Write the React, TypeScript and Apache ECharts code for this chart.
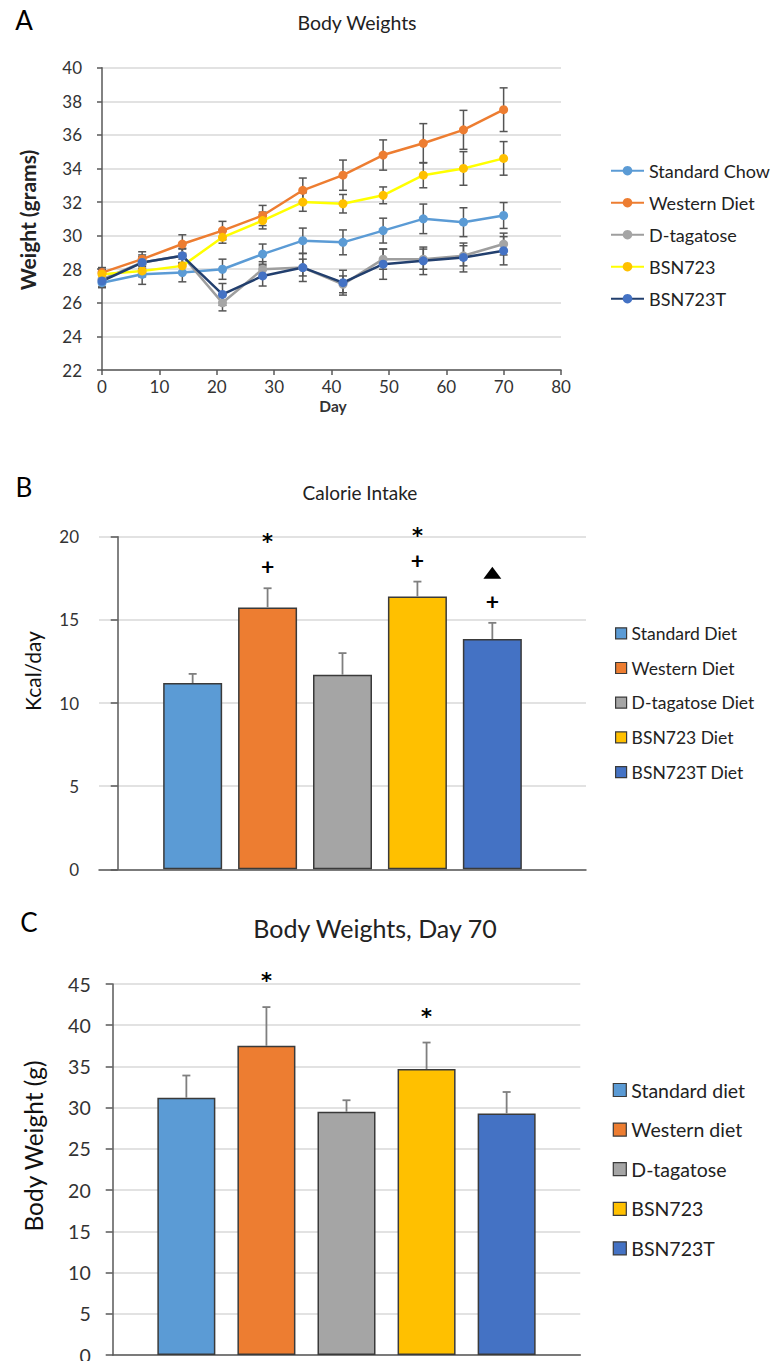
import React, { useEffect, useRef } from "react";
import * as echarts from "echarts";

// ---------- Panel A data ----------
const days = [0, 7, 14, 21, 28, 35, 42, 49, 56, 63, 70];
const seriesNamesA = ["Standard Chow", "Western Diet", "D-tagatose", "BSN723", "BSN723T"];
const standardChow = [27.2, 27.7, 27.8, 28.0, 28.9, 29.7, 29.6, 30.3, 31.0, 30.8, 31.2];
const westernDiet = [27.8, 28.6, 29.5, 30.3, 31.2, 32.7, 33.6, 34.8, 35.5, 36.3, 37.5];
const dTagatose = [27.4, 28.4, 28.8, 26.0, 28.0, 28.1, 27.1, 28.6, 28.6, 28.8, 29.5];
const bsn723 = [27.7, 27.9, 28.2, 29.9, 30.9, 32.0, 31.9, 32.4, 33.6, 34.0, 34.6];
const bsn723T = [27.3, 28.4, 28.8, 26.5, 27.6, 28.1, 27.2, 28.3, 28.5, 28.7, 29.1];
const standardChowErr = [0.3, 0.6, 0.55, 0.6, 0.6, 0.75, 0.74, 0.74, 0.88, 0.86, 0.77];
const westernDietErr = [0.3, 0.44, 0.55, 0.55, 0.6, 0.73, 0.9, 0.9, 1.17, 1.16, 1.3];
const dTagatoseErr = [0.3, 0.35, 0.4, 0.48, 0.45, 0.5, 0.5, 0.6, 0.6, 0.6, 0.65];
const bsn723Err = [0.3, 0.35, 0.4, 0.35, 0.5, 0.55, 0.55, 0.5, 0.75, 1.0, 1.0];
const bsn723TErr = [0.35, 0.45, 0.45, 0.65, 0.6, 0.83, 0.74, 0.9, 0.82, 0.86, 0.84];
const xTicksA = { min: 0, max: 80, interval: 10 };
const yTicksA = { min: 22, max: 40, interval: 2 };

// ---------- Panel B data ----------
const dietNamesB = ["Standard Diet", "Western Diet", "D-tagatose Diet", "BSN723 Diet", "BSN723T Diet"];
const calorieIntake = [11.2, 15.75, 11.7, 16.4, 13.85];
const calorieErr = [0.55, 1.15, 1.3, 0.9, 0.97];
const calorieMarks = [[], ["+", "*"], [], ["+", "*"], ["+", "▲"]];
const yTicksB = { min: 0, max: 20, interval: 5 };

// ---------- Panel C data ----------
const dietNamesC = ["Standard diet", "Western diet", "D-tagatose", "BSN723", "BSN723T"];
const day70Weight = [31.2, 37.5, 29.5, 34.7, 29.3];
const day70Err = [2.7, 4.7, 1.4, 3.2, 2.6];
const day70Marks = [[], ["*"], [], ["*"], []];
const yTicksC = { min: 0, max: 45, interval: 5 };

// ---------- styles ----------
const FONT = "Lato, 'Noto Sans', sans-serif";
const STAR_FONT = "'DejaVu Sans', sans-serif";
const AXIS = "#595959";
const GRID = "#D9D9D9";
const LABEL = "#333333";
const barColors = ["#5B9BD5", "#ED7D31", "#A5A5A5", "#FFC000", "#4472C4"];
const lineColors = ["#5B9BD5", "#ED7D31", "#9E9E9E", "#FFFF00", "#223F6E"];
const markerColors = ["#5B9BD5", "#ED7D31", "#A5A5A5", "#FFC000", "#4472C4"];

const txt = (text: string, x: number, y: number, size: number, extra: any = {}) => ({
  type: "text",
  x,
  y,
  rotation: extra.rotation || 0,
  silent: true,
  style: {
    text,
    fill: extra.fill || "#000",
    fontSize: size,
    fontFamily: FONT,
    fontWeight: extra.weight || "normal",
    align: "center",
    verticalAlign: "middle",
  },
});

function optionA() {
  const vals = [standardChow, westernDiet, dTagatose, bsn723, bsn723T];
  const errs = [standardChowErr, westernDietErr, dTagatoseErr, bsn723Err, bsn723TErr];
  const lines = seriesNamesA.map((name, s) => ({
    name,
    type: "line",
    z: 3,
    data: days.map((d, i) => [d, vals[s][i]]),
    symbol: "circle",
    symbolSize: 9,
    lineStyle: { color: lineColors[s], width: 2.5 },
    itemStyle: { color: markerColors[s] },
    color: markerColors[s],
  }));
  const errBars = seriesNamesA.map((name, s) => ({
    name: name + " error",
    type: "custom",
    z: 2,
    data: days.map((d, i) => [d, vals[s][i], errs[s][i]]),
    encode: { x: 0, y: 1 },
    renderItem: (params: any, api: any) => {
      const x = api.value(0), y = api.value(1), e = api.value(2);
      const lo = api.coord([x, y - e]);
      const hi = api.coord([x, y + e]);
      const st = { stroke: "#555555", lineWidth: 1.5 };
      return {
        type: "group",
        children: [
          { type: "line", shape: { x1: lo[0], y1: lo[1], x2: hi[0], y2: hi[1] }, style: st },
          { type: "line", shape: { x1: lo[0] - 4, y1: lo[1], x2: lo[0] + 4, y2: lo[1] }, style: st },
          { type: "line", shape: { x1: hi[0] - 4, y1: hi[1], x2: hi[0] + 4, y2: hi[1] }, style: st },
        ],
      };
    },
  }));
  return {
    animation: false,
    textStyle: { fontFamily: FONT },
    grid: { left: 102, top: 67.7, width: 459, height: 302.3, containLabel: false, outerBoundsMode: "none" },
    xAxis: {
      type: "value",
      ...xTicksA,
      axisLine: { show: true, lineStyle: { color: AXIS, width: 1.5 } },
      axisTick: { show: true, length: 5, lineStyle: { color: AXIS, width: 1.5 } },
      axisLabel: { margin: 8, fontSize: 17, color: LABEL, fontFamily: FONT },
      splitLine: { show: false },
    },
    yAxis: {
      type: "value",
      ...yTicksA,
      axisLine: { show: true, lineStyle: { color: AXIS, width: 1.5 } },
      axisTick: { show: true, length: 5, lineStyle: { color: AXIS, width: 1.5 } },
      axisLabel: { margin: 20, fontSize: 17, color: LABEL, fontFamily: FONT },
      splitLine: { show: true, lineStyle: { color: GRID, width: 1.5 } },
    },
    legend: {
      orient: "vertical",
      left: 610,
      top: 160.7,
      padding: 0,
      itemWidth: 33,
      itemHeight: 12,
      itemGap: 12,
      data: seriesNamesA,
      selectedMode: false,
      textStyle: { fontSize: 18, lineHeight: 20, color: "#222", fontFamily: FONT },
    },
    graphic: [
      txt("A", 24, 20, 26),
      txt("Body Weights", 357, 22, 19.5, { fill: "#222" }),
      txt("Weight (grams)", 27, 220, 21, { rotation: Math.PI / 2, weight: "bold", fill: "#222" }),
      txt("Day", 333, 406, 15.5, { weight: "bold", fill: "#333" }),
    ],
    series: [...errBars, ...lines],
  };
}

function barOption(cfg: any) {
  const bars = cfg.names.map((name: string, i: number) => ({
    name,
    type: "bar",
    z: 2,
    barWidth: cfg.barWidth,
    barGap: "-100%",
    data: [[i + 1, cfg.values[i]]],
    itemStyle: { color: barColors[i], borderColor: "#3a3a3a", borderWidth: 1.5 },
  }));
  const err = {
    name: "error",
    type: "custom",
    z: 3,
    data: cfg.values.map((v: number, i: number) => [i + 1, v, cfg.errs[i]]),
    encode: { x: 0, y: 1 },
    renderItem: (params: any, api: any) => {
      const x = api.value(0), y = api.value(1), e = api.value(2);
      const lo = api.coord([x, y]);
      const hi = api.coord([x, y + e]);
      const st = { stroke: "#7F7F7F", lineWidth: 1.8 };
      return {
        type: "group",
        children: [
          { type: "line", shape: { x1: lo[0], y1: lo[1], x2: hi[0], y2: hi[1] }, style: st },
          { type: "line", shape: { x1: hi[0] - 4, y1: hi[1], x2: hi[0] + 4, y2: hi[1] }, style: st },
        ],
      };
    },
  };
  const marks = {
    name: "marks",
    type: "custom",
    z: 4,
    data: cfg.values.map((v: number, i: number) => [i + 1, v + cfg.errs[i]]),
    encode: { x: 0, y: 1 },
    renderItem: (params: any, api: any) => {
      const p = api.coord([api.value(0), api.value(1)]);
      const list: string[] = cfg.marks[params.dataIndex] || [];
      const children = list.map((m: string, k: number) => {
        const cy = p[1] - cfg.markOffset - k * cfg.markStep;
        if (m === "▲") {
          return {
            type: "polygon",
            shape: { points: [[p[0] - 9, cy + 6], [p[0] + 9, cy + 6], [p[0], cy - 6]] },
            style: { fill: "#000" },
          };
        }
        const star = m === "*";
        return {
          type: "text",
          x: p[0],
          y: cy + (star ? 4 : 0),
          style: {
            text: m,
            fill: "#000",
            fontSize: star ? 21 : 23,
            fontWeight: "bold",
            fontFamily: star ? STAR_FONT : FONT,
            align: "center",
            verticalAlign: "middle",
          },
        };
      });
      return { type: "group", children };
    },
  };
  return {
    animation: false,
    textStyle: { fontFamily: FONT },
    grid: { ...cfg.grid, containLabel: false, outerBoundsMode: "none" },
    xAxis: {
      type: "value",
      min: cfg.xMin,
      max: cfg.xMax,
      axisLine: { show: true, lineStyle: { color: AXIS, width: 1.5 } },
      axisTick: { show: false },
      axisLabel: { show: false },
      splitLine: { show: false },
    },
    yAxis: {
      type: "value",
      ...cfg.yTicks,
      axisLine: { show: true, lineStyle: { color: AXIS, width: 1.5 } },
      axisTick: { show: true, length: 7, lineStyle: { color: AXIS, width: 1.5 } },
      axisLabel: { margin: cfg.labelMargin, fontSize: cfg.labelSize, color: LABEL, fontFamily: FONT },
      splitLine: { show: true, lineStyle: { color: GRID, width: 1.5 } },
    },
    legend: {
      orient: "vertical",
      left: cfg.legend.left,
      top: cfg.legend.top,
      padding: 0,
      icon: "rect",
      itemWidth: cfg.legend.size,
      itemHeight: cfg.legend.size,
      itemGap: cfg.legend.gap,
      data: cfg.names,
      selectedMode: false,
      itemStyle: { borderColor: "#3a3a3a", borderWidth: 1.2 },
      textStyle: { fontSize: cfg.legend.font, lineHeight: cfg.legend.lineHeight, color: "#222", fontFamily: FONT },
    },
    graphic: cfg.graphic,
    series: [...bars, err, marks],
  };
}

function optionB() {
  return barOption({
    names: dietNamesB,
    values: calorieIntake,
    errs: calorieErr,
    marks: calorieMarks,
    markOffset: 22,
    markStep: 28,
    barWidth: 59,
    grid: { left: 99, top: 96.7, width: 487, height: 332.6 },
    xMin: -0.25,
    xMax: 6.25,
    yTicks: yTicksB,
    labelMargin: 20,
    labelSize: 17,
    legend: { left: 615, top: 183.3, size: 11, gap: 14.7, font: 17.5, lineHeight: 20 },
    graphic: [
      txt("B", 24, 47, 26),
      txt("Calorie Intake", 360, 52, 19, { fill: "#222" }),
      txt("Kcal/day", 32, 231, 21, { rotation: Math.PI / 2, fill: "#111" }),
    ],
  });
}

function optionC() {
  return barOption({
    names: dietNamesC,
    values: day70Weight,
    errs: day70Err,
    marks: day70Marks,
    markOffset: 30,
    markStep: 28,
    barWidth: 58,
    grid: { left: 112.7, top: 104, width: 467.6, height: 371 },
    xMin: 0.08,
    xMax: 5.92,
    yTicks: yTicksC,
    labelMargin: 22,
    labelSize: 19.5,
    legend: { left: 612.7, top: 199, size: 13, gap: 17.6, font: 19.5, lineHeight: 22 },
    graphic: [
      txt("C", 29, 42, 26),
      txt("Body Weights, Day 70", 375, 48, 25, { fill: "#222" }),
      txt("Body Weight (g)", 33, 266, 24.5, { rotation: Math.PI / 2, fill: "#111" }),
    ],
  });
}

function Panel({ top, height, build }: { top: number; height: number; build: () => any }) {
  const ref = useRef<HTMLDivElement>(null);
  useEffect(() => {
    const chart = echarts.init(ref.current as HTMLDivElement, null, { renderer: "svg" });
    chart.setOption(build());
    return () => chart.dispose();
  }, []);
  return <div ref={ref} style={{ position: "absolute", left: 0, top, width: 784, height }} />;
}

export default function App() {
  return (
    <div style={{ position: "absolute", left: 0, top: 0, width: 784, height: 1361, background: "#fff", overflow: "hidden" }}>
      <Panel top={0} height={440} build={optionA} />
      <Panel top={440} height={440} build={optionB} />
      <Panel top={880} height={481} build={optionC} />
    </div>
  );
}
